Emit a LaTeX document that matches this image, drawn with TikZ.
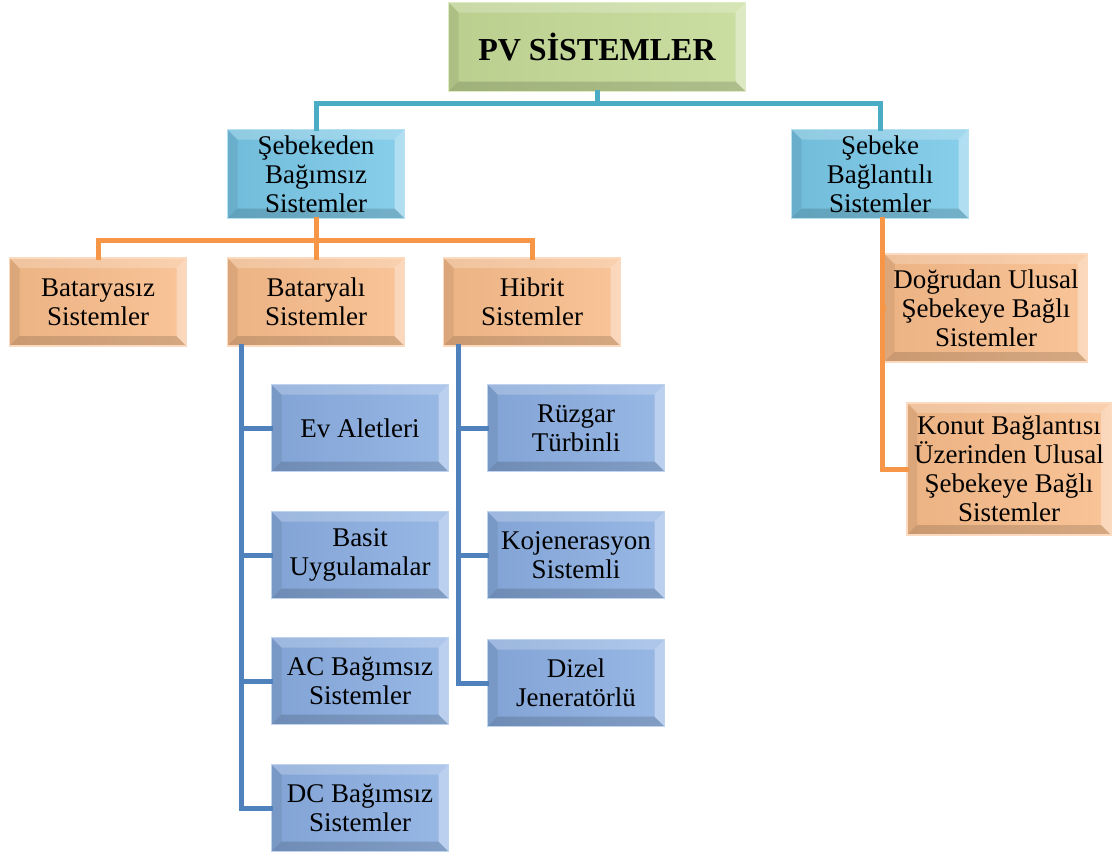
\documentclass[tikz,border=0pt]{standalone}
\usepackage{fontspec}
\setmainfont{Liberation Serif}
\usetikzlibrary{calc}
\definecolor{pvgreen}{RGB}{196,218,150}
\definecolor{pvteal}{RGB}{120,200,232}
\definecolor{pvorange}{RGB}{248,188,138}
\definecolor{pvblue}{RGB}{138,174,226}
\definecolor{tealline}{RGB}{75,172,198}
\definecolor{orgline}{RGB}{247,150,70}
\definecolor{blueline}{RGB}{79,129,189}
\newcommand{\bv}{10pt}

\begin{document}
\begin{tikzpicture}[x=1pt, y=-1pt,
  bevel/.style={path picture={
    \coordinate (bnw) at (path picture bounding box.north west);
    \coordinate (bne) at (path picture bounding box.north east);
    \coordinate (bsw) at (path picture bounding box.south west);
    \coordinate (bse) at (path picture bounding box.south east);
    \fill[white, opacity=.22] (bnw) -- (bne) -- ($(bne)+(-\bv,-\bv)$) -- ($(bnw)+(\bv,-\bv)$) -- cycle;
    \fill[white, opacity=.35] (bne) -- (bse) -- ($(bse)+(-\bv,\bv)$) -- ($(bne)+(-\bv,-\bv)$) -- cycle;
    \fill[black, opacity=.14] (bse) -- (bsw) -- ($(bsw)+(\bv,\bv)$) -- ($(bse)+(-\bv,\bv)$) -- cycle;
    \fill[black, opacity=.07] (bsw) -- (bnw) -- ($(bnw)+(\bv,-\bv)$) -- ($(bsw)+(\bv,\bv)$) -- cycle;
  }},
  box/.style={bevel, align=center, inner sep=2pt, line width=1.5pt,
    font=\fontsize{27}{29}\selectfont},
  topbox/.style={box, left color=pvgreen!95!black, right color=pvgreen!88!white, draw=pvgreen!55!white,
    minimum width=297, minimum height=89, font=\bfseries\fontsize{32}{36}\selectfont},
  tealbox/.style={box, left color=pvteal!94!black, right color=pvteal!88!white, draw=pvteal!55!white,
    minimum width=177, minimum height=89},
  orgbox/.style={box, left color=pvorange!95!black, right color=pvorange!88!white, draw=pvorange!55!white,
    minimum width=177, minimum height=88},
  bluebox/.style={box, left color=pvblue!94!black, right color=pvblue!88!white, draw=pvblue!55!white,
    minimum width=177, minimum height=87},
  link/.style={line width=5pt, line cap=rect},
]
\useasboundingbox (0,0) rectangle (1117,854);

% Top level
\node[topbox] (pv) at (597,47) {PV SİSTEMLER};

% Second level
\node[tealbox] (sb) at (316,174) {Şebekeden\\Bağımsız\\Sistemler};
\node[tealbox] (sbg) at (880,174) {Şebeke\\Bağlantılı\\Sistemler};

% Off-grid branches
\node[orgbox] (bsz) at (98,302) {Bataryasız\\Sistemler};
\node[orgbox] (bty) at (316,302) {Bataryalı\\Sistemler};
\node[orgbox] (hib) at (532,302) {Hibrit\\Sistemler};

% Grid-connected branches
\node[orgbox, minimum width=203, minimum height=108] (dog) at (986,308) {Doğrudan Ulusal\\Şebekeye Bağlı\\Sistemler};
\node[orgbox, minimum width=204, minimum height=132] (kon) at (1009,469) {Konut Bağlantısı\\Üzerinden Ulusal\\Şebekeye Bağlı\\Sistemler};

% Battery systems
\node[bluebox] (ev) at (360,428) {Ev Aletleri};
\node[bluebox] (bas) at (360,555) {Basit\\Uygulamalar};
\node[bluebox] (ac) at (360,681) {AC Bağımsız\\Sistemler};
\node[bluebox] (dc) at (360,808) {DC Bağımsız\\Sistemler};

% Hybrid systems
\node[bluebox] (rz) at (576,428) {Rüzgar\\Türbinli};
\node[bluebox] (koj) at (576,555) {Kojenerasyon\\Sistemli};
\node[bluebox] (diz) at (576,683) {Dizel\\Jeneratörlü};

% Connectors
\foreach \c in {sb,sbg} {
  \draw[link, tealline] (pv.south) -- ++(0,11) -| (\c.north);
}
\foreach \c in {bsz,bty,hib} {
  \draw[link, orgline] (sb.south) -- ++(0,21) -| (\c.north);
}
\foreach \c in {dog,kon} {
  \draw[link, orgline] ($(sbg.south)+(2,0)$) |- (\c.west);
}
\foreach \c in {ev,bas,ac,dc} {
  \draw[link, blueline] ($(bty.south west)+(15,0)$) |- (\c.west);
}
\foreach \c in {rz,koj,diz} {
  \draw[link, blueline] ($(hib.south west)+(16,0)$) |- (\c.west);
}

\end{tikzpicture}
\end{document}
